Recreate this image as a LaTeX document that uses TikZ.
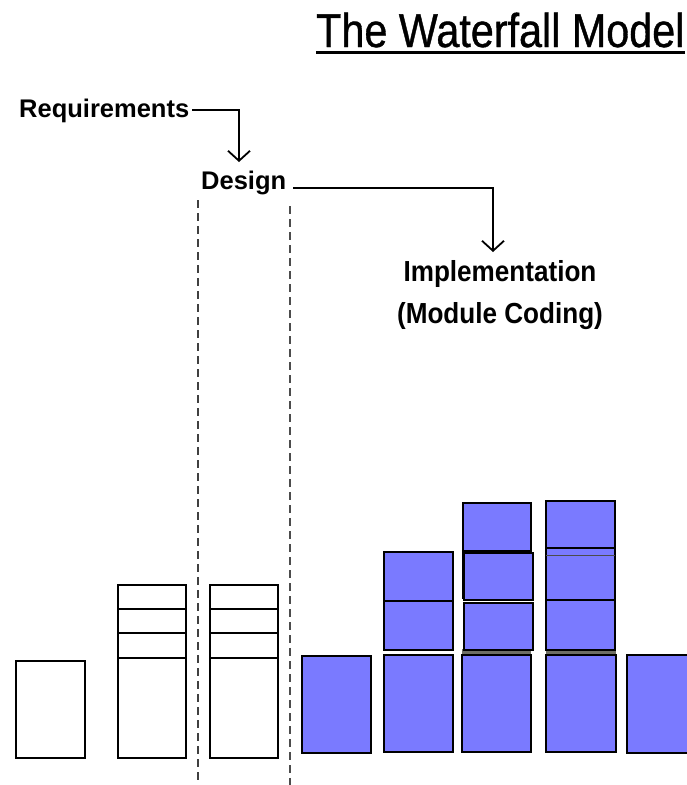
\documentclass[tikz,border=0pt]{standalone}
\usepackage{fontspec}
\usetikzlibrary{arrows.meta}
\newfontfamily\titlefont[FakeStretch=0.87,FakeBold=0.8]{Liberation Sans}
\newfontfamily\labelfont{Liberation Sans}
\newfontfamily\implfont[FakeStretch=0.9]{Liberation Sans}
\definecolor{wfblue}{RGB}{122,122,255}
\definecolor{seam}{RGB}{110,110,100}
\tikzset{
  phase/.style={inner sep=0pt, anchor=base west, font=\labelfont\bfseries\fontsize{25.5}{30}\selectfont},
  implabel/.style={inner sep=0pt, anchor=base, font=\implfont\bfseries\fontsize{29}{34}\selectfont},
  flow/.style={line width=1.8pt, -{Straight Barb[length=10pt,width=22pt,line width=1.8pt]}},
  divider/.style={dash pattern=on 8pt off 5pt},
  wbox/.style={draw, line width=2.2pt, fill=white},
  bbox/.style={draw, line width=2pt, fill=wfblue},
}
\begin{document}
\begin{tikzpicture}[x=1pt, y=-1pt]
\useasboundingbox (0,0) rectangle (687,785);

% title with underline
\node[inner sep=0pt, anchor=base west, font=\titlefont\fontsize{47.5}{55}\selectfont] (title) at (316,47) {The Waterfall Model};
\draw[line width=3pt] ([yshift=-5pt]title.base west) -- ([yshift=-5pt]title.base east);

% phase labels
\node[phase] (req) at (19,117) {Requirements};
\node[phase] (des) at (201,189) {Design};
\node[implabel] (impl) at (500,281) {Implementation};
\node[implabel] (implb) at (500,323) {(Module Coding)};

% flow connectors
\coordinate (reqtip) at (239,162);
\coordinate (destip) at (493,252);
\draw[flow] ([xshift=3pt,yshift=7pt]req.base east) -| (reqtip);
\draw[flow] ([xshift=7pt,yshift=1pt]des.base east) -| (destip);

% dashed dividers around the design column
\coordinate (dl1) at (198,200);
\coordinate (dl2) at (198,785);
\coordinate (dr1) at (290,206);
\coordinate (dr2) at (290,785);
\draw[divider, line width=1.3pt, black!75] (dl1) -- (dl2);
\draw[divider, line width=2pt, black!70] (dr1) -- (dr2);

% requirements and design blocks
\draw[wbox] (16,661) rectangle (85,758);
\foreach \x in {118,210}{
  \draw[wbox] (\x,585) rectangle ++(68,173);
  \foreach \y in {609,633,658}
    \draw[line width=2.2pt] (\x,\y) -- ++(68,0);
}

% implementation blocks
\fill[seam] (462,649) rectangle (531,656);
\fill[seam] (546,649) rectangle (616,656);
\draw[bbox] (302,656) rectangle (371,753);
\draw[bbox] (384,655) rectangle (453,752);
\draw[bbox] (462,655) rectangle (531,752);
\draw[bbox] (546,655) rectangle (616,752);
\draw[bbox] (627,655) rectangle (700,753);

\draw[bbox] (384,552) rectangle (453,601);
\draw[bbox] (384,601) rectangle (453,650);

\draw[bbox] (463,503) rectangle (531,551);
\draw[bbox] (464,603) rectangle (533,650);
\draw[bbox] (464,553) rectangle (533,600);
\draw[line width=2.5pt] (463,551) -- (463,599);

\draw[bbox] (546,501) rectangle (615,548);
\draw[bbox] (546,600) rectangle (615,650);
\draw[bbox] (546,548) rectangle (615,600);
\draw[line width=1pt, black!70] (546,555) -- (615,555);
\end{tikzpicture}
\end{document}
